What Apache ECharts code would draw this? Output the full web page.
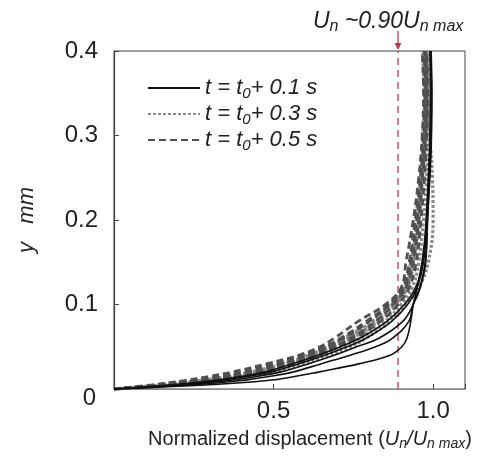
<!DOCTYPE html>
<html><head><meta charset="utf-8">
<script src="https://cdn.jsdelivr.net/npm/echarts@6/dist/echarts.min.js"></script>
<style>html,body{margin:0;padding:0;background:#fff}#c{width:484px;height:456px}</style>
</head><body><div id="c"></div>
<script>
// y levels (mm) shared by every profile
const yLevels = [0, 0.005, 0.01, 0.015, 0.02, 0.03, 0.04, 0.05, 0.06, 0.08, 0.1, 0.12, 0.15, 0.2, 0.25, 0.3, 0.35, 0.4];

// t = t0 + 0.1 s (solid) : normalized displacement at each y level
const solidCurves = [
  [0, 0.30, 0.48, 0.57, 0.64, 0.77, 0.865, 0.902, 0.918, 0.93, 0.938, 0.95, 0.965, 0.98, 0.988, 0.993, 0.995, 0.992],
  [0, 0.25, 0.40, 0.49, 0.56, 0.65, 0.74, 0.82, 0.872, 0.924, 0.937, 0.958, 0.975, 0.983, 0.988, 0.994, 0.995, 0.993],
  [0, 0.22, 0.36, 0.45, 0.52, 0.61, 0.69, 0.76, 0.83, 0.905, 0.938, 0.96, 0.977, 0.982, 0.99, 0.995, 0.996, 0.994],
  [0, 0.20, 0.33, 0.42, 0.49, 0.58, 0.66, 0.73, 0.79, 0.87, 0.92, 0.95, 0.97, 0.98, 0.986, 0.992, 0.994, 0.992],
  [0, 0.18, 0.31, 0.40, 0.47, 0.56, 0.64, 0.71, 0.77, 0.855, 0.91, 0.945, 0.968, 0.978, 0.985, 0.99, 0.992, 0.99]
];
// t = t0 + 0.3 s (dotted)
const dottedCurves = [
  [0, 0.17, 0.29, 0.38, 0.45, 0.55, 0.63, 0.69, 0.745, 0.83, 0.885, 0.92, 0.94, 0.955, 0.965, 0.972, 0.975, 0.97],
  [0, 0.15, 0.27, 0.36, 0.43, 0.53, 0.61, 0.67, 0.72, 0.81, 0.87, 0.91, 0.93, 0.948, 0.96, 0.968, 0.972, 0.966],
  [0, 0.19, 0.31, 0.40, 0.48, 0.57, 0.65, 0.72, 0.77, 0.85, 0.90, 0.935, 0.955, 0.97, 0.98, 0.985, 0.988, 0.985],
  [0, 0.20, 0.32, 0.42, 0.50, 0.59, 0.67, 0.74, 0.79, 0.865, 0.915, 0.955, 0.985, 1.0, 0.998, 0.99, 0.985, 0.98],
  [0, 0.16, 0.28, 0.37, 0.44, 0.54, 0.62, 0.68, 0.735, 0.82, 0.878, 0.915, 0.937, 0.955, 0.966, 0.974, 0.978, 0.974]
];
// t = t0 + 0.5 s (dashed)
const dashedCurves = [
  [0, 0.12, 0.22, 0.30, 0.37, 0.48, 0.58, 0.645, 0.69, 0.765, 0.85, 0.90, 0.915, 0.938, 0.955, 0.966, 0.97, 0.966],
  [0, 0.14, 0.25, 0.33, 0.40, 0.50, 0.59, 0.66, 0.71, 0.79, 0.86, 0.905, 0.925, 0.944, 0.96, 0.97, 0.974, 0.972],
  [0, 0.15, 0.26, 0.35, 0.42, 0.52, 0.60, 0.67, 0.72, 0.80, 0.865, 0.91, 0.93, 0.95, 0.963, 0.973, 0.977, 0.975],
  [0, 0.16, 0.28, 0.37, 0.44, 0.54, 0.62, 0.69, 0.74, 0.82, 0.875, 0.915, 0.937, 0.955, 0.967, 0.977, 0.98, 0.977],
  [0, 0.17, 0.30, 0.39, 0.46, 0.56, 0.64, 0.70, 0.755, 0.835, 0.89, 0.925, 0.947, 0.962, 0.973, 0.98, 0.983, 0.98]
];

const groupNames = ['t01', 't03', 't05'];
const groupLabels = ['0.1', '0.3', '0.5'];
const thresholdX = 0.89;
const xTickLabels = [0.5, 1.0];
const yTickLabels = [0.1, 0.2, 0.3, 0.4];
const originLabel = '0';

const FONT = 'Liberation Sans, Arial, sans-serif';
const RED = '#c4384e';
const styles = [
  {color: '#111111', width: 1.6, type: 'solid', z: 5},
  {color: '#8a8a8a', width: 3.2, type: [3, 2], z: 3},
  {color: '#505050', width: 2.8, type: [7, 4], z: 4}
];

const series = [];
series.push({
  type: 'line', name: 'threshold', silent: true, clip: false, symbol: 'none', z: 2,
  data: [[thresholdX, 0], [thresholdX, 0.4]],
  lineStyle: {color: RED, width: 1.3, type: [7, 5]}
});
[solidCurves, dottedCurves, dashedCurves].forEach((group, gi) => {
  group.forEach(xs => {
    series.push({
      type: 'line', name: groupNames[gi], symbol: 'none', smooth: 0.4, z: styles[gi].z,
      data: xs.map((x, i) => [x, yLevels[i]]),
      lineStyle: {color: styles[gi].color, width: styles[gi].width, type: styles[gi].type},
      itemStyle: {color: styles[gi].color}
    });
  });
});

const richText = (size, sub) => ({
  n: {fontFamily: FONT, fontSize: size, color: '#222', lineHeight: size + 4, verticalAlign: 'middle', fontWeight: 'normal'},
  i: {fontFamily: FONT, fontStyle: 'italic', fontSize: size, color: '#222', lineHeight: size + 4, verticalAlign: 'middle', fontWeight: 'normal'},
  s: {fontFamily: FONT, fontStyle: 'italic', fontSize: sub, color: '#222', lineHeight: size + 4, verticalAlign: 'bottom', fontWeight: 'normal'}
});

const chart = echarts.init(document.getElementById('c'));
chart.setOption({
  animation: false,
  backgroundColor: '#fff',
  title: {
    text: '{i|U}{s|n}{i| ~0.90U}{s|n max}',
    left: 308, top: 3,
    textStyle: {fontWeight: 'normal', rich: richText(23, 16)}
  },
  grid: {left: 114, right: 19, top: 51, bottom: 65, show: true, borderColor: '#444', borderWidth: 1, containLabel: false},
  legend: {
    data: groupNames, orient: 'vertical', left: 142, top: 72, itemWidth: 52, itemHeight: 14, itemGap: 2,
    selectedMode: false,
    itemStyle: {opacity: 0},
    formatter: n => '{i|t = t}{s|0}{i|+ ' + groupLabels[groupNames.indexOf(n)] + ' s}',
    textStyle: {rich: richText(22, 15)}
  },
  xAxis: {
    type: 'value', min: 0, max: 1.1, interval: 0.5,
    name: '{n|Normalized displacement (}{i|U}{s|n}{i|/U}{s|n max}{n|)}',
    nameLocation: 'middle', nameGap: 38,
    nameTextStyle: {padding: [0, 0, 0, 41], rich: richText(20, 14)},
    splitLine: {show: false},
    axisLine: {lineStyle: {color: '#8a8a8a', width: 1.2}},
    axisTick: {inside: true, length: 5, lineStyle: {color: '#444'}},
    axisLabel: {
      fontFamily: FONT, fontSize: 24, color: '#222', margin: 10,
      formatter: v => xTickLabels.some(t => Math.abs(t - v) < 1e-9) ? v.toFixed(1) : ''
    }
  },
  yAxis: {
    type: 'value', min: 0, max: 0.4, interval: 0.1,
    name: 'y   mm', nameLocation: 'middle', nameGap: 76, nameRotate: 90,
    nameTextStyle: {fontFamily: FONT, fontStyle: 'italic', fontSize: 22, color: '#222'},
    splitLine: {show: false},
    axisLine: {lineStyle: {color: '#444', width: 1.2}},
    axisTick: {inside: true, length: 5, lineStyle: {color: '#444'}},
    axisLabel: {
      fontFamily: FONT, fontSize: 24, color: '#222', margin: 16,
      formatter: v => {
        const t = yTickLabels.find(t => Math.abs(t - v) < 1e-9);
        return t === undefined ? '' : t.toFixed(1);
      }
    }
  },
  series: series
});

// red arrow marking the threshold above the plot, and the origin "0" label sitting a bit low
const topPt = chart.convertToPixel({gridIndex: 0}, [thresholdX, 0.4]);
const origin = chart.convertToPixel({gridIndex: 0}, [0, 0]);
chart.setOption({
  graphic: [
    {type: 'line', shape: {x1: topPt[0], y1: topPt[1] - 20, x2: topPt[0], y2: topPt[1] - 7}, style: {stroke: RED, lineWidth: 1.3}, z: 10},
    {type: 'polygon', shape: {points: [[topPt[0] - 3.5, topPt[1] - 8], [topPt[0] + 3.5, topPt[1] - 8], [topPt[0], topPt[1] - 1]]}, style: {fill: RED}, z: 10},
    {type: 'text', x: origin[0] - 18, y: origin[1] + 9, style: {text: originLabel, fontFamily: FONT, fontSize: 24, fill: '#222', align: 'right', verticalAlign: 'middle'}, z: 10}
  ]
});
</script></body></html>
